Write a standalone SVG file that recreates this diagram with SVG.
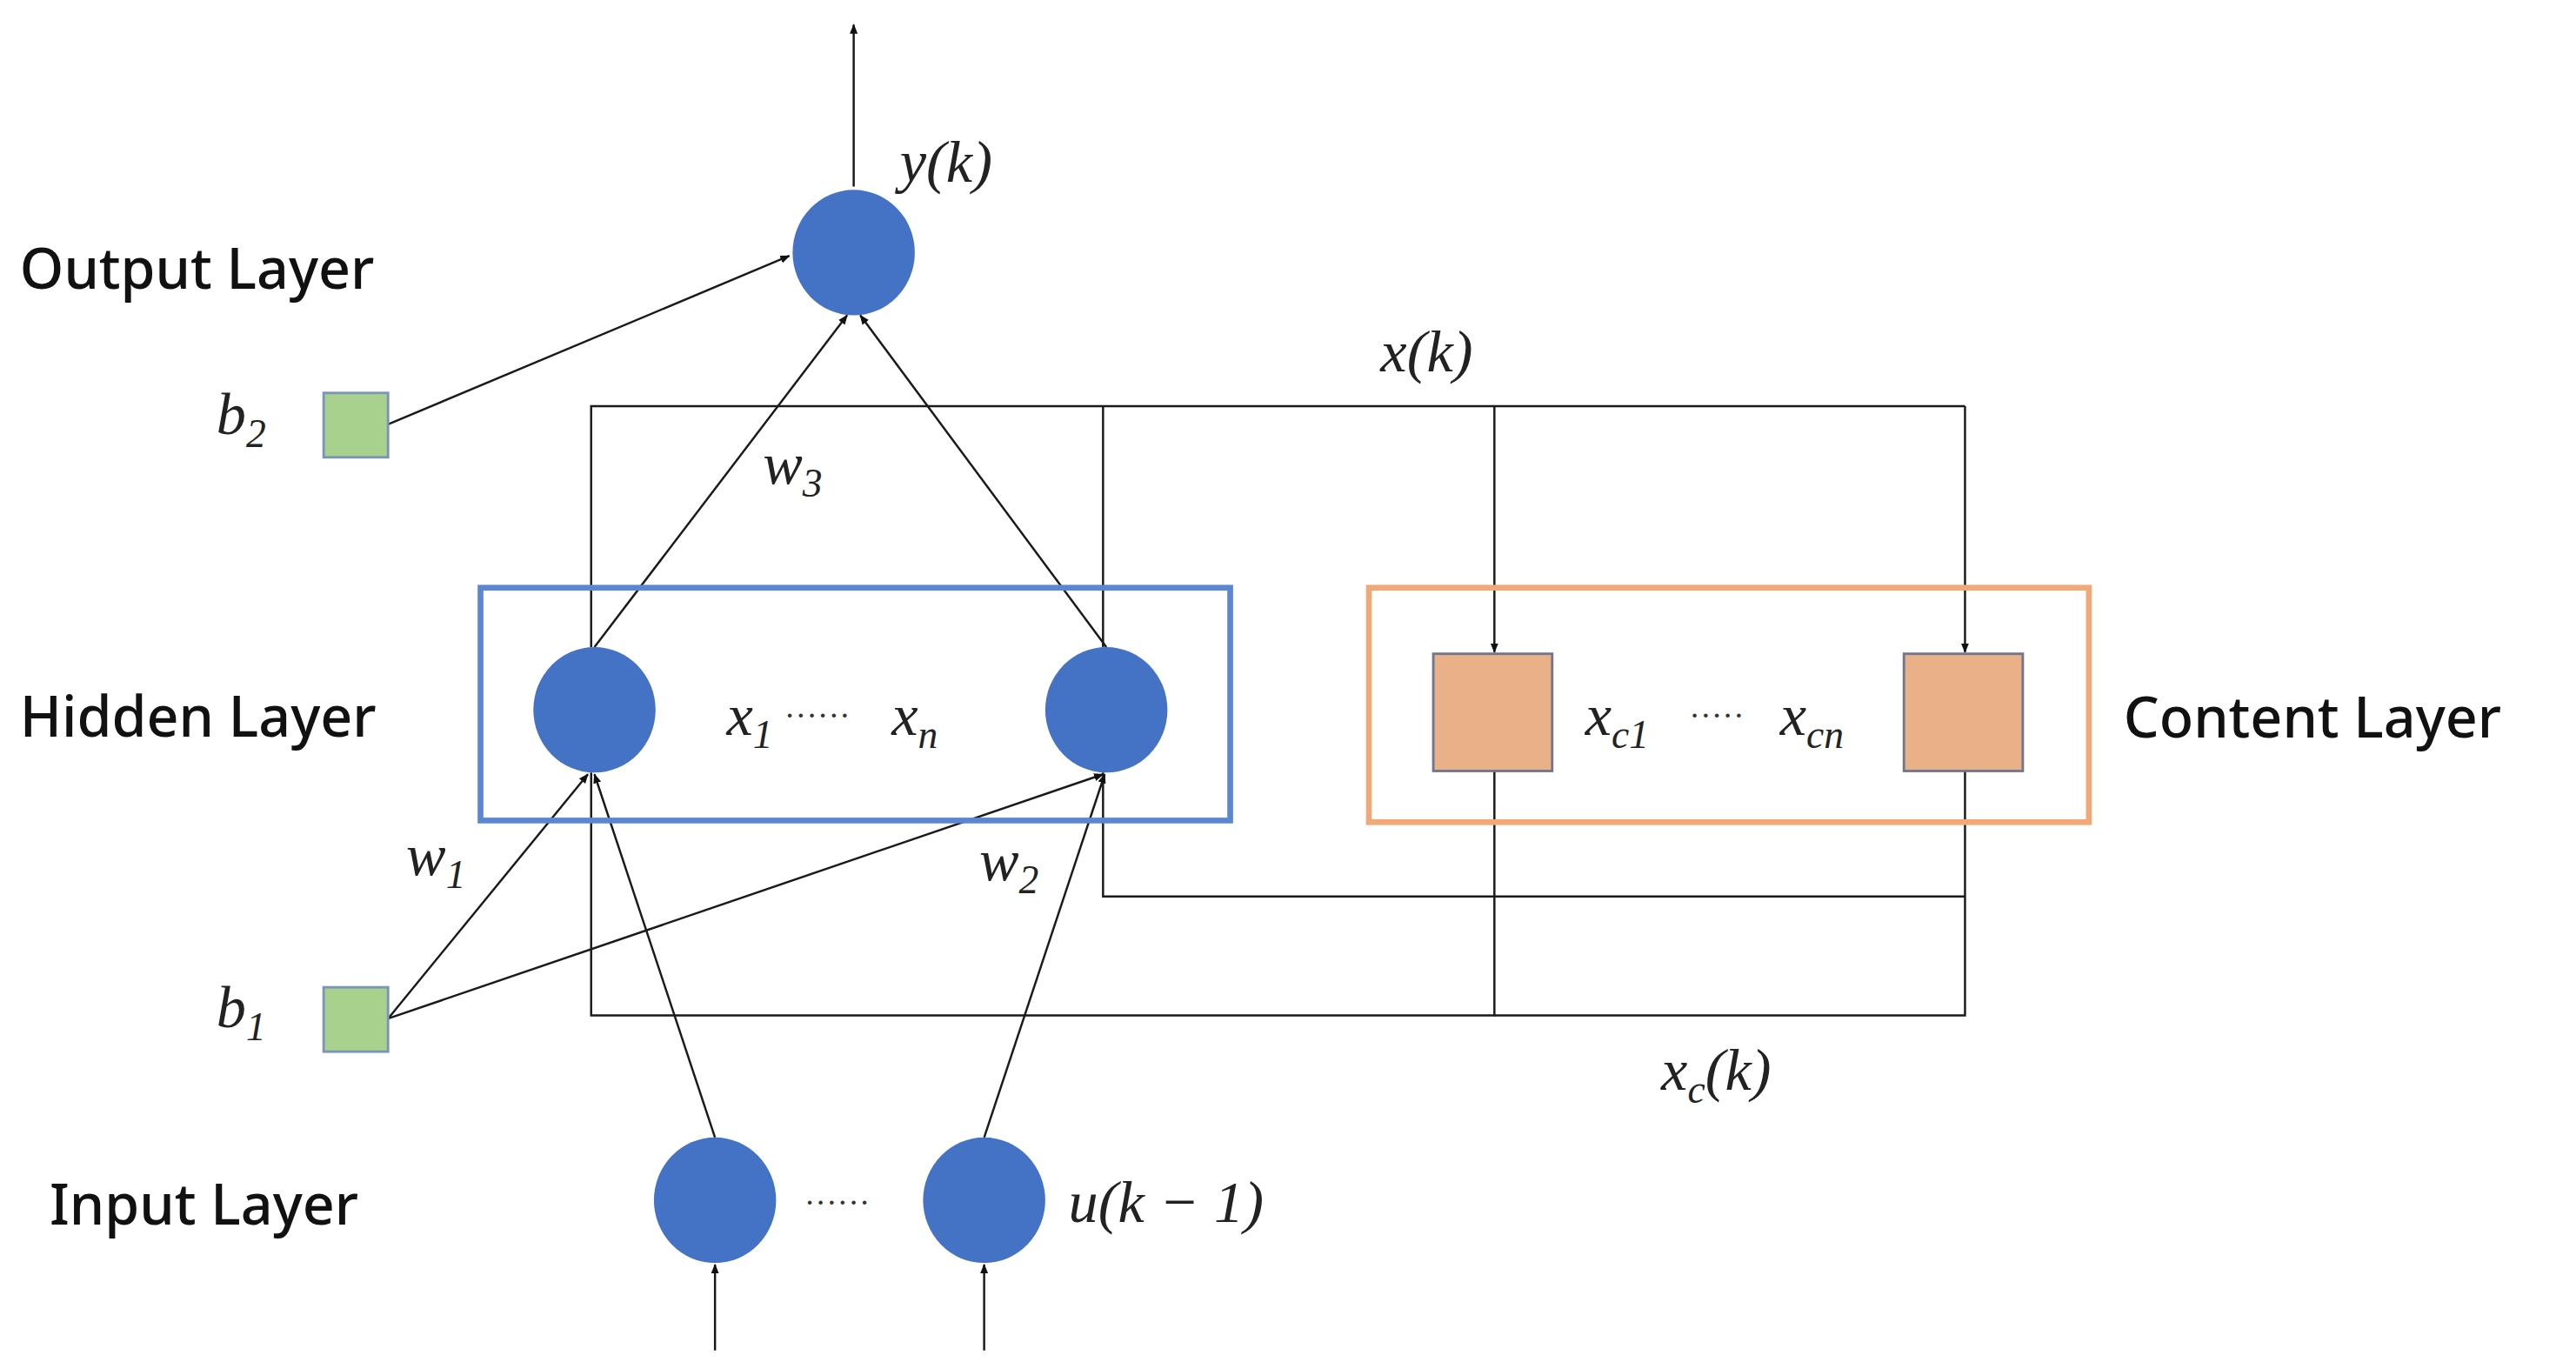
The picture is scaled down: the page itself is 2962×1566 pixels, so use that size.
<svg xmlns="http://www.w3.org/2000/svg" width="2962" height="1566" viewBox="0 0 2962 1566">
<style>
.ln{stroke:#1a1a1a;stroke-width:1.3;fill:none}
.ar{marker-end:url(#ah)}
.node{fill:#4472C4}
.lbl{font-family:"Noto Sans","Liberation Sans",sans-serif;font-size:34px;fill:#111;font-weight:500}
.m{font-family:"Liberation Serif",serif;font-style:italic;font-size:36px;fill:#222}
.s{font-size:24px}
.dots{font-family:"Liberation Serif",serif;font-size:20px;fill:#333}
</style>
<defs>
<marker id="ah" viewBox="0 0 10 10" refX="9" refY="5" markerWidth="6" markerHeight="6" orient="auto" markerUnits="userSpaceOnUse"><path d="M0,1 L10,5 L0,9 z" fill="#111"/></marker>
</defs>
<rect width="2962" height="1566" fill="#fff"/>
<g transform="scale(1.8987,1.8982)">
<g id="connectors">
<line class="ln ar" x1="517" y1="113" x2="517" y2="15"/>
<line class="ln ar" x1="235" y1="257" x2="478" y2="155"/>
<line class="ln ar" x1="360" y1="392" x2="513" y2="191"/>
<line class="ln ar" x1="670" y1="392" x2="521" y2="191"/>
<polyline class="ln" points="358,392 358,246 1190,246"/>
<line class="ln" x1="668" y1="246" x2="668" y2="392"/>
<line class="ln ar" x1="905" y1="246" x2="905" y2="395"/>
<line class="ln ar" x1="1190" y1="246" x2="1190" y2="395"/>
<polyline class="ln" points="905,467 905,615 358,615 358,468"/>
<polyline class="ln" points="1190,467 1190,615 905,615"/>
<polyline class="ln" points="668,468 668,543 1190,543"/>
<line class="ln ar" x1="235" y1="617" x2="356" y2="469"/>
<line class="ln ar" x1="235" y1="617" x2="668" y2="469"/>
<line class="ln ar" x1="433" y1="689" x2="360" y2="469"/>
<line class="ln ar" x1="596" y1="689" x2="669" y2="469"/>
<line class="ln ar" x1="433" y1="818" x2="433" y2="766"/>
<line class="ln ar" x1="596" y1="818" x2="596" y2="766"/>
</g>
<g id="hidden-box"><rect x="291" y="356" width="454" height="141" fill="none" stroke="#5B86D1" stroke-width="3.5"/></g>
<g id="content-box"><rect x="829" y="356" width="436" height="142" fill="none" stroke="#F2A978" stroke-width="3.5"/></g>
<g id="output"><ellipse class="node" cx="517" cy="153" rx="37" ry="38"/></g>
<g id="h1"><ellipse class="node" cx="360" cy="430" rx="37" ry="38"/></g>
<g id="h2"><ellipse class="node" cx="670" cy="430" rx="37" ry="38"/></g>
<g id="i1"><ellipse class="node" cx="433" cy="727" rx="37" ry="38"/></g>
<g id="i2"><ellipse class="node" cx="596" cy="727" rx="37" ry="38"/></g>
<g id="b2"><rect x="196" y="238" width="39" height="39" fill="#A9D18E" stroke="#7A95B8" stroke-width="1.5"/></g>
<g id="b1"><rect x="196" y="598" width="39" height="39" fill="#A9D18E" stroke="#7A95B8" stroke-width="1.5"/></g>
<g id="c1"><rect x="868" y="396" width="72" height="71" fill="#EAB088" stroke="#6E7690" stroke-width="1.5"/></g>
<g id="c2"><rect x="1153" y="396" width="72" height="71" fill="#EAB088" stroke="#6E7690" stroke-width="1.5"/></g>
<g id="labels">
<text class="lbl" x="12" y="175">Output Layer</text>
<text class="lbl" x="12" y="446">Hidden Layer</text>
<text class="lbl" x="30" y="742">Input Layer</text>
<text class="lbl" x="1286" y="447">Content Layer</text>
<text class="m" x="545" y="110">y(k)</text>
<text class="m" x="836" y="225">x(k)</text>
<text class="m" x="131" y="263">b<tspan class="s" dy="8">2</tspan></text>
<text class="m" x="131" y="622">b<tspan class="s" dy="8">1</tspan></text>
<text class="m" x="462" y="293">w<tspan class="s" dy="8">3</tspan></text>
<text class="m" x="246" y="530">w<tspan class="s" dy="8">1</tspan></text>
<text class="m" x="593" y="533">w<tspan class="s" dy="8">2</tspan></text>
<text class="m" x="440" y="445">x<tspan class="s" dy="8">1</tspan></text>
<text class="dots" x="475" y="440">······</text>
<text class="m" x="540" y="445">x<tspan class="s" dy="8">n</tspan></text>
<text class="m" x="960" y="445">x<tspan class="s" dy="8">c1</tspan></text>
<text class="dots" x="1023" y="440">·····</text>
<text class="m" x="1078" y="445">x<tspan class="s" dy="8">cn</tspan></text>
<text class="m" x="1006" y="660">x<tspan class="s" dy="8">c</tspan><tspan dy="-8">(k)</tspan></text>
<text class="dots" x="487" y="735">······</text>
<text class="m" x="647" y="740">u(k − 1)</text>
</g>
</g>
</svg>
